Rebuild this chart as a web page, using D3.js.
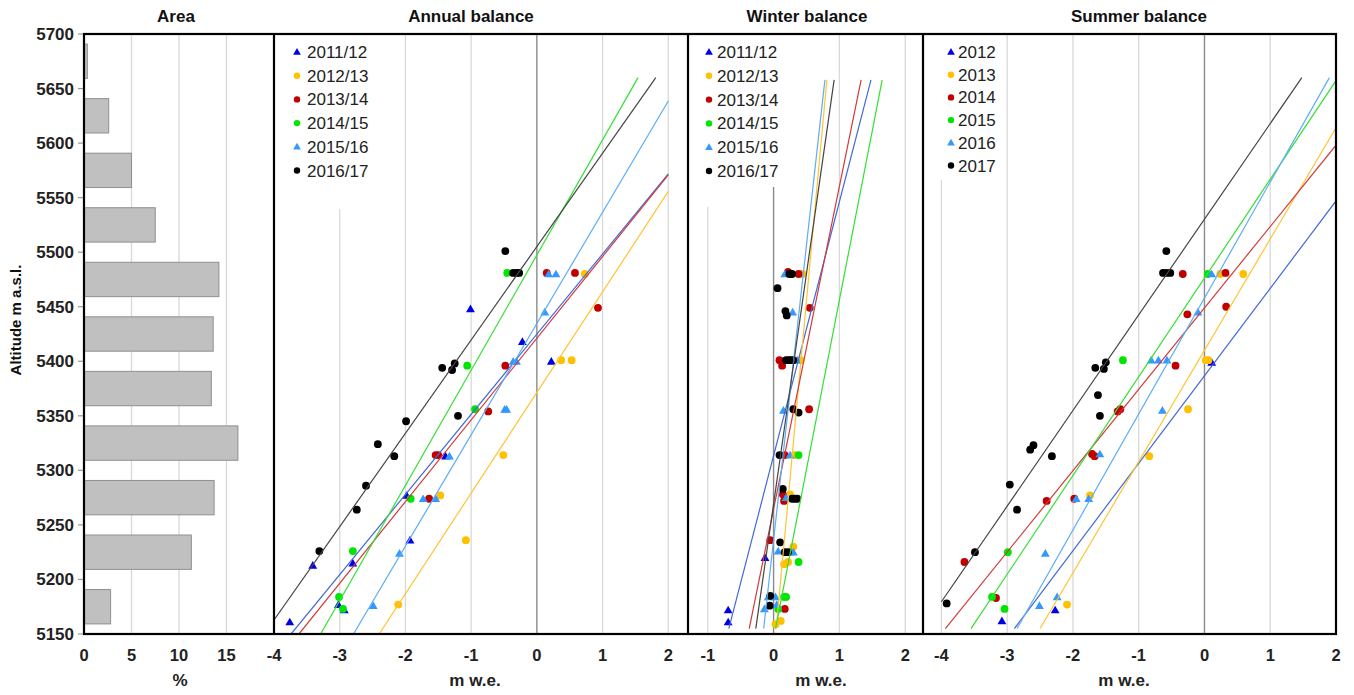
<!DOCTYPE html>
<html><head><meta charset="utf-8">
<script src="https://cdn.jsdelivr.net/npm/d3@7"></script>
<style>body{margin:0;background:#fff;} text{font-family:Arial,"Liberation Sans",sans-serif;}</style>
</head><body><svg id="c" width="1354" height="695"></svg>
<script>
// ---------------- DATA ----------------
const areaBands = [5675,5625,5575,5525,5475,5425,5375,5325,5275,5225,5175];
const areaPct   = [0.35,2.6,5.0,7.5,14.2,13.6,13.4,16.2,13.7,11.3,2.8];

const yearNames   = ["2011/12","2012/13","2013/14","2014/15","2015/16","2016/17"];
const summerNames = ["2012","2013","2014","2015","2016","2017"];
const altTicks = [5150,5200,5250,5300,5350,5400,5450,5500,5550,5600,5650,5700];

// [altitude, balance m w.e.]
const annualS1 = [[5448,-1.01],[5418,-0.22],[5400,0.22],[5313,-1.39],[5277,-1.98],[5236,-1.93],[5215,-2.80],[5213,-3.41],[5177,-3.02],[5172,-2.93],[5161,-3.76]];
const annualS2 = [[5480,0.73],[5401,0.37],[5401,0.53],[5314,-0.51],[5277,-1.47],[5236,-1.08],[5177,-2.11]];
const annualS3 = [[5481,0.15],[5481,0.58],[5449,0.93],[5396,-0.48],[5354,-0.74],[5314,-1.54],[5314,-1.50],[5274,-1.64]];
const annualS4 = [[5481,-0.45],[5396,-1.06],[5356,-0.94],[5274,-1.92],[5226,-2.80],[5184,-3.01],[5173,-2.95]];
const annualS5 = [[5480,0.18],[5480,0.29],[5445,0.12],[5400,-0.36],[5400,-0.31],[5356,-0.49],[5356,-0.46],[5313,-1.33],[5274,-1.73],[5274,-1.54],[5224,-2.09],[5176,-2.49]];
const annualS6 = [[5501,-0.48],[5481,-0.36],[5481,-0.31],[5481,-0.27],[5394,-1.44],[5392,-1.29],[5398,-1.25],[5350,-1.20],[5345,-1.99],[5324,-2.42],[5313,-2.17],[5286,-2.60],[5264,-2.74],[5226,-3.31]];

const winterS1 = [[5220,-0.13],[5172,-0.69],[5161,-0.69]];
const winterS2 = [[5480,0.44],[5401,0.41],[5314,0.32],[5278,0.25],[5230,0.30],[5214,0.16],[5216,0.22],[5159,0.03],[5162,0.11]];
const winterS3 = [[5482,0.22],[5480,0.38],[5449,0.55],[5401,0.09],[5396,0.13],[5356,0.54],[5314,0.17],[5278,0.14],[5272,0.16],[5236,-0.05],[5173,0.17]];
const winterS4 = [[5314,0.38],[5216,0.38],[5184,0.16],[5184,0.19],[5173,0.07]];
const winterS5 = [[5480,0.17],[5445,0.29],[5401,0.36],[5355,0.15],[5314,0.25],[5275,0.19],[5226,0.07],[5225,0.25],[5225,0.30],[5184,-0.08],[5184,0.03],[5173,-0.14],[5177,0.05]];
const winterS6 = [[5480,0.24],[5480,0.28],[5467,0.06],[5446,0.18],[5442,0.20],[5401,0.19],[5401,0.23],[5401,0.26],[5401,0.30],[5356,0.30],[5353,0.38],[5314,0.09],[5283,0.14],[5274,0.28],[5274,0.32],[5274,0.36],[5234,0.10],[5225,0.17],[5225,0.22],[5185,-0.05],[5176,-0.06]];

const summerS1 = [[5162,-3.08],[5172,-2.27],[5399,0.11]];
const summerS2 = [[5480,0.24],[5480,0.59],[5401,0.02],[5401,0.06],[5356,-0.25],[5313,-0.84],[5277,-1.74],[5177,-2.09]];
const summerS3 = [[5480,-0.33],[5481,0.32],[5450,0.33],[5443,-0.26],[5396,-0.44],[5354,-1.32],[5356,-1.28],[5315,-1.71],[5313,-1.67],[5272,-2.40],[5274,-1.98],[5216,-3.65],[5183,-3.17]];
const summerS4 = [[5480,0.05],[5401,-1.24],[5225,-2.99],[5184,-3.23],[5173,-3.04]];
const summerS5 = [[5480,0.11],[5445,-0.10],[5401,-0.81],[5401,-0.70],[5401,-0.57],[5355,-0.64],[5315,-1.59],[5274,-1.95],[5274,-1.76],[5224,-2.42],[5184,-2.24],[5176,-2.51]];
const summerS6 = [[5501,-0.58],[5481,-0.63],[5481,-0.58],[5481,-0.52],[5394,-1.66],[5393,-1.53],[5399,-1.50],[5369,-1.62],[5350,-1.59],[5319,-2.65],[5323,-2.60],[5313,-2.32],[5287,-2.96],[5264,-2.85],[5225,-3.49],[5178,-3.92]];

// trend lines: balance at the low and high altitude of trendAlt
const annualTrendAlt = [5150,5660];
const annualTrend = [[-3.74,3.20],[-2.40,3.13],[-3.62,3.19],[-3.29,1.54],[-2.79,2.21],[-4.15,1.81]];
const winterTrendAlt = [5155,5658];
const winterTrend = [[-0.68,1.48],[0.04,0.81],[-0.37,1.33],[0.03,1.65],[-0.15,0.78],[-0.27,0.92]];
const summerTrendAlt = [5155,5660];
const summerTrend = [[-2.89,3.41],[-2.50,2.45],[-3.94,2.83],[-3.55,2.03],[-2.85,1.90],[-4.28,1.48]];

// ---------------- STYLE ----------------
const markerColors = ["#0000e6","#ffc000","#c00000","#00e600","#3399ff","#000000"];
const lineColors   = ["#4169d6","#ffc433","#d03a3a","#33e033","#5cadf7","#444444"];
const shapes = ["tri","dot","dot","dot","tri","dot"];

const TOP=34, BOT=634, LEFT=84, RIGHT=1336;
const y = d3.scaleLinear().domain([5150,5700]).range([BOT,TOP]);
const svg = d3.select("#c");

function marker(g, shape, cx, cy, color, small){
  if(shape==="tri"){
    g.append("path").attr("d", d3.symbol(d3.symbolTriangle, small?26:34)())
      .attr("transform",`translate(${cx},${cy+ (small?0.5:0.8)})`).attr("fill",color);
  } else {
    g.append("circle").attr("cx",cx).attr("cy",cy).attr("r",small?3.2:3.9).attr("fill",color);
  }
}

// ---------------- AREA PANEL ----------------
const xA = d3.scaleLinear().domain([0,20]).range([LEFT,274]);
const gA = svg.append("g");
[5,10,15].forEach(v=>{
  gA.append("line").attr("x1",xA(v)).attr("x2",xA(v)).attr("y1",TOP).attr("y2",BOT)
    .attr("stroke","#d9d9d9").attr("stroke-width",1.3);
});
const band = d3.scaleBand().domain(areaBands).range([y(5700),y(5150)]).paddingInner(0.37).paddingOuter(0.185);
areaBands.forEach((b,i)=>{
  gA.append("rect").attr("x",xA(0)).attr("y",band(b)).attr("width",xA(areaPct[i])-xA(0))
    .attr("height",band.bandwidth()).attr("fill","#c0c0c0").attr("stroke","#8f8f8f").attr("stroke-width",1);
});
[0,5,10,15].forEach(v=>{
  svg.append("text").attr("x",xA(v)).attr("y",661).attr("text-anchor","middle")
    .attr("font-size",16.5).attr("font-weight","bold").attr("fill","#222").text(v);
});
svg.append("text").attr("x",180).attr("y",686).attr("text-anchor","middle")
  .attr("font-size",17).attr("font-weight","bold").attr("fill","#222").text("%");
svg.append("text").attr("x",176).attr("y",22).attr("text-anchor","middle")
  .attr("font-size",17).attr("font-weight","bold").attr("fill","#111").text("Area");

// ---------------- BALANCE PANELS ----------------
const panels = [
  {x0:274,x1:688,dom:[-4,2.3],ticks:[-4,-3,-2,-1,0,1,2],title:"Annual balance",titleX:471,xlabX:475,
   names:yearNames,series:[annualS1,annualS2,annualS3,annualS4,annualS5,annualS6],trend:annualTrend,trendAlt:annualTrendAlt,
   leg:{x1:390,y1:209,zeroTop:null,mx:297,tx:307,y0:52,dy:23.7}},
  {x0:688,x1:923,dom:[-1.3,2.27],ticks:[-1,0,1,2],title:"Winter balance",titleX:807,xlabX:821,
   names:yearNames,series:[winterS1,winterS2,winterS3,winterS4,winterS5,winterS6],trend:winterTrend,trendAlt:winterTrendAlt,
   leg:{x1:782,y1:207,zeroTop:187,mx:709,tx:717,y0:52,dy:23.8}},
  {x0:923,x1:1336,dom:[-4.28,2.0],ticks:[-4,-3,-2,-1,0,1,2],title:"Summer balance",titleX:1139,xlabX:1124,
   names:summerNames,series:[summerS1,summerS2,summerS3,summerS4,summerS5,summerS6],trend:summerTrend,trendAlt:summerTrendAlt,
   leg:{x1:1000,y1:180,zeroTop:null,mx:951,tx:958,y0:52,dy:22.7}}
];

panels.forEach(p=>{
  const x = d3.scaleLinear().domain(p.dom).range([p.x0,p.x1]);
  const g = svg.append("g");
  // grid
  p.ticks.forEach(t=>{
    const px = x(t);
    if(px<=p.x0+2 || px>=p.x1-2) return;
    g.append("line").attr("x1",px).attr("x2",px).attr("y1",TOP).attr("y2",BOT)
      .attr("stroke", t===0?"#8a8a8a":"#d9d9d9").attr("stroke-width",t===0?1.4:1.3);
  });
  // legend background
  g.append("rect").attr("x",p.x0+1).attr("y",TOP+1).attr("width",p.leg.x1-p.x0-1).attr("height",p.leg.y1-TOP-1).attr("fill","#fff");
  if(p.leg.zeroTop!==null){
    g.append("line").attr("x1",x(0)).attr("x2",x(0)).attr("y1",p.leg.zeroTop).attr("y2",p.leg.y1)
      .attr("stroke","#8a8a8a").attr("stroke-width",1.4);
  }
  // clip
  const clipId = "clip"+p.x0;
  svg.append("clipPath").attr("id",clipId).append("rect").attr("x",p.x0).attr("y",TOP).attr("width",p.x1-p.x0).attr("height",BOT-TOP);
  const gc = g.append("g").attr("clip-path",`url(#${clipId})`);
  const bLo = Math.max(p.dom[0],-4), bHi = Math.min(p.dom[1],2);
  // points
  p.series.forEach((s,i)=>{
    s.forEach(d=> marker(gc, shapes[i], x(d[1]), y(d[0]), markerColors[i], false));
  });
  // trend lines
  p.trend.forEach((tr,i)=>{
    const b0=tr[0], b1=tr[1], a0=p.trendAlt[0], a1=p.trendAlt[1];
    const db=b1-b0;
    let t0=0,t1=1;
    if(db!==0){
      const tl=(bLo-b0)/db, th=(bHi-b0)/db;
      t0=Math.max(t0,Math.min(tl,th)); t1=Math.min(t1,Math.max(tl,th));
    }
    const pts=[[b0+db*t0,a0+(a1-a0)*t0],[b0+db*t1,a0+(a1-a0)*t1]];
    gc.append("path").attr("d",d3.line().x(d=>x(d[0])).y(d=>y(d[1]))(pts))
      .attr("fill","none").attr("stroke",lineColors[i]).attr("stroke-width",1.2);
  });
  // legend
  p.names.forEach((n,i)=>{
    const ly = p.leg.y0 + i*p.leg.dy;
    marker(g, shapes[i], p.leg.mx, ly, markerColors[i], true);
    g.append("text").attr("x",p.leg.tx).attr("y",ly+6).attr("font-size",17).attr("fill","#222").text(n);
  });
  // tick labels
  p.ticks.forEach(t=>{
    g.append("text").attr("x",x(t)).attr("y",661).attr("text-anchor","middle")
      .attr("font-size",16.5).attr("font-weight","bold").attr("fill","#222").text(t);
  });
  g.append("text").attr("x",p.xlabX).attr("y",686).attr("text-anchor","middle")
    .attr("font-size",17).attr("font-weight","bold").attr("fill","#222").text("m w.e.");
  g.append("text").attr("x",p.titleX).attr("y",22).attr("text-anchor","middle")
    .attr("font-size",17).attr("font-weight","bold").attr("fill","#111").text(p.title);
});

// ---------------- Y AXIS ----------------
altTicks.forEach(a=>{
  svg.append("line").attr("x1",LEFT-6).attr("x2",LEFT).attr("y1",y(a)).attr("y2",y(a)).attr("stroke","#999").attr("stroke-width",1.2);
  svg.append("text").attr("x",LEFT-10).attr("y",y(a)+6).attr("text-anchor","end")
    .attr("font-size",17).attr("font-weight","bold").attr("fill","#222").text(a);
});
svg.append("text").attr("transform","translate(21,320) rotate(-90)").attr("text-anchor","middle")
  .attr("font-size",15).attr("font-weight","bold").attr("fill","#111").text("Altitude m a.s.l.");

// ---------------- FRAME ----------------
svg.append("rect").attr("x",LEFT).attr("y",TOP).attr("width",RIGHT-LEFT).attr("height",BOT-TOP)
  .attr("fill","none").attr("stroke","#000").attr("stroke-width",2.2);
[274,688,923].forEach(px=>{
  svg.append("line").attr("x1",px).attr("x2",px).attr("y1",TOP).attr("y2",BOT).attr("stroke","#000").attr("stroke-width",2.2);
});
</script></body></html>
